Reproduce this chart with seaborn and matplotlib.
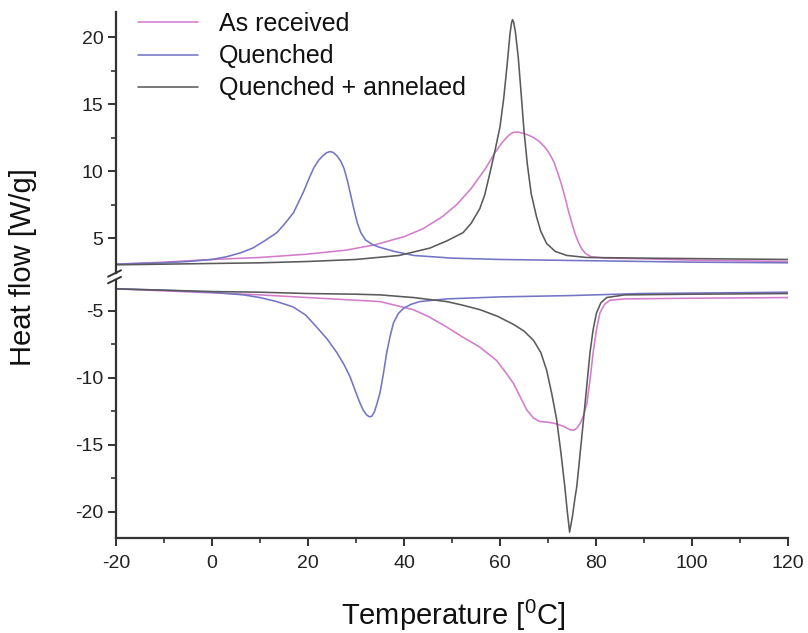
import matplotlib
matplotlib.use("Agg")
import matplotlib.pyplot as plt
from matplotlib.lines import Line2D
from matplotlib.ticker import FixedLocator
import numpy as np
import pandas as pd
import seaborn as sns

# ---------------- data ----------------
samples = ["As received", "Quenched", "Quenched + annelaed"]
colors = ["#d37ccb", "#7474c6", "#5a5a5a"]

# upper branch (exotherm side)
T_up_recv = [-20, -10, 0, 10, 20, 28, 34, 40, 44, 48, 51, 54, 57, 59, 60.5, 61.5, 62.3, 63,
             63.8, 64.8, 65.8, 67, 68.2, 69.3, 70.3, 71.2, 72, 72.8, 73.5, 74.2, 74.9, 75.6,
             76.3, 77, 77.8, 79, 82, 90, 100, 110, 120]
hf_up_recv = [3.05, 3.2, 3.4, 3.55, 3.8, 4.1, 4.5, 5.1, 5.7, 6.6, 7.5, 8.7, 10.2, 11.4,
              12.15, 12.55, 12.8, 12.9, 12.9, 12.82, 12.7, 12.5, 12.2, 11.8, 11.3, 10.7,
              9.9, 9.0, 8.1, 7.1, 6.2, 5.35, 4.7, 4.2, 3.85, 3.6, 3.5, 3.45, 3.35, 3.3, 3.25]

T_up_q = [-20, -10, -5, 0, 3, 6, 8.5, 11, 13.5, 15, 17, 19, 20.4, 21.3, 22.2, 23, 23.8,
          24.5, 25.2, 26, 26.8, 27.5, 28.2, 28.9, 29.6, 30.3, 31, 32, 33.5, 35, 38, 42, 50,
          60, 80, 100, 120]
hf_up_q = [3.05, 3.15, 3.25, 3.4, 3.6, 3.9, 4.25, 4.8, 5.4, 6.0, 6.9, 8.4, 9.6, 10.3, 10.8,
           11.1, 11.35, 11.45, 11.4, 11.15, 10.75, 10.2, 9.3, 8.2, 7.1, 6.1, 5.4, 4.85,
           4.5, 4.3, 4.0, 3.7, 3.5, 3.4, 3.3, 3.2, 3.15]

T_up_qa = [-20, -10, 0, 10, 20, 30, 39, 45.4, 49, 52.3, 54, 55.8, 56.8, 58, 59, 60, 60.8,
           61.5, 62.1, 62.4, 62.6, 62.85, 63.2, 63.8, 64.4, 65, 65.7, 66.5, 67.6, 68.5,
           69.7, 71.5, 73.9, 78, 90, 105, 120]
hf_up_qa = [3.0, 3.05, 3.1, 3.15, 3.25, 3.4, 3.7, 4.25, 4.8, 5.4, 6.1, 7.2, 8.2, 10.0,
            11.6, 13.3, 15.5, 18.0, 20.3, 21.05, 21.3, 21.1, 20.4, 18.5, 15.8, 13.0, 10.5,
            8.3, 6.6, 5.5, 4.6, 4.0, 3.7, 3.55, 3.5, 3.45, 3.4]

# lower branch (endotherm side)
T_lo_recv = [-20, -10, 0, 10, 20, 30, 35, 41.9, 45, 48.9, 52, 55.8, 59.3, 61, 62.8, 64.2,
             65.6, 67, 68.3, 70, 71.5, 73.2, 74.5, 75.3, 76, 76.7, 77.4, 78.1, 78.8, 79.4,
             80.1, 80.8, 81.8, 82.9, 86, 100, 120]
hf_lo_recv = [-3.35, -3.5, -3.65, -3.8, -4.0, -4.2, -4.3, -4.9, -5.4, -6.2, -6.9, -7.7,
              -8.7, -9.5, -10.4, -11.4, -12.4, -13.0, -13.25, -13.3, -13.4, -13.6, -13.85,
              -13.9, -13.75, -13.4, -12.8, -11.9, -10.0, -8.1, -6.4, -5.15, -4.5, -4.2,
              -4.1, -4.05, -4.0]

T_lo_q = [-20, -10, 0, 6.5, 10, 13.5, 16.9, 19.5, 21.8, 24, 26, 27.5, 28.75, 30, 30.8,
          31.5, 32.2, 32.8, 33.3, 33.8, 34.3, 35, 35.7, 36.4, 37.1, 37.8, 38.8, 39.9,
          41.5, 43.3, 48.9, 60, 75, 89, 105, 120]
hf_lo_q = [-3.35, -3.45, -3.6, -3.8, -4.0, -4.3, -4.7, -5.3, -6.2, -7.1, -8.1, -9.0, -9.9,
           -11.1, -11.85, -12.4, -12.75, -12.9, -12.85, -12.55, -12.0, -11.1, -9.7, -8.1,
           -6.9, -5.9, -5.2, -4.8, -4.5, -4.3, -4.1, -3.95, -3.85, -3.7, -3.65, -3.6]

T_lo_qa = [-20, -10, 0, 10, 20, 30, 35, 42, 48.9, 52, 55.8, 59.5, 62.8, 65, 67, 68.5, 69.7,
           70.8, 71.8, 72.7, 73.5, 74.0, 74.5, 75.1, 75.6, 76, 76.7, 77.4, 78.1, 78.75,
           79.4, 80.1, 81.0, 82.2, 86, 100, 120]
hf_lo_qa = [-3.35, -3.45, -3.55, -3.6, -3.7, -3.75, -3.8, -4.0, -4.3, -4.55, -4.9, -5.4,
            -6.0, -6.5, -7.2, -8.1, -9.4, -11.2, -13.1, -15.6, -18.1, -19.9, -21.5, -20.3,
            -19.0, -18.1, -15.6, -13.1, -10.5, -8.1, -6.4, -5.15, -4.4, -4.0, -3.8, -3.75,
            -3.7]

x_ticks = [-20, 0, 20, 40, 60, 80, 100, 120]
y_ticks_up = [5, 10, 15, 20]
y_ticks_lo = [-20, -15, -10, -5]

# ---------------- build tables ----------------
def table(pairs):
    frames = []
    for name, (t, h) in zip(samples, pairs):
        frames.append(pd.DataFrame({"T": t, "hf": h, "sample": name}))
    return pd.concat(frames, ignore_index=True)

df_up = table([(T_up_recv, hf_up_recv), (T_up_q, hf_up_q), (T_up_qa, hf_up_qa)])
df_lo = table([(T_lo_recv, hf_lo_recv), (T_lo_q, hf_lo_q), (T_lo_qa, hf_lo_qa)])

# ---------------- style ----------------
sns.set_style("ticks")
plt.rcParams["font.family"] = ["Liberation Sans", "DejaVu Sans"]
plt.rcParams["mathtext.fontset"] = "custom"
plt.rcParams["mathtext.rm"] = "Liberation Sans"
plt.rcParams["mathtext.default"] = "regular"
plt.rcParams["axes.unicode_minus"] = False

W, H = 808, 633
fig = plt.figure(figsize=(W / 100, H / 100), dpi=100)

def fx(px):
    return px / W

def fy(py):
    return 1 - py / H

left, right = 116, 788
ax_top = fig.add_axes([fx(left), fy(273), fx(right - left), (273 - 12) / H])
ax_bot = fig.add_axes([fx(left), fy(538), fx(right - left), (538 - 280) / H])

palette = dict(zip(samples, colors))
sns.lineplot(data=df_up, x="T", y="hf", hue="sample", hue_order=samples, palette=palette,
             estimator=None, sort=False, linewidth=1.15, ax=ax_top, legend=True)
sns.lineplot(data=df_lo, x="T", y="hf", hue="sample", hue_order=samples, palette=palette,
             estimator=None, sort=False, linewidth=1.15, ax=ax_bot, legend=False)

spine_c = "#333333"
for ax in (ax_top, ax_bot):
    ax.set_xlim(-20, 120)
    ax.set_xlabel("")
    ax.set_ylabel("")
    for s in ("top", "right"):
        ax.spines[s].set_visible(False)
    ax.spines["left"].set_linewidth(1.6)
    ax.spines["left"].set_color(spine_c)
    ax.tick_params(which="major", direction="out", length=6, width=1.4, colors=spine_c,
                   labelsize=14, labelcolor="#222222", pad=3)
    ax.tick_params(which="minor", direction="out", length=3.5, width=1.2, colors=spine_c)

ax_top.set_ylim(2.39, 21.87)
ax_top.spines["bottom"].set_visible(False)
ax_top.set_yticks(y_ticks_up)
ax_top.yaxis.set_minor_locator(FixedLocator([7.5, 12.5, 17.5]))
ax_top.tick_params(axis="x", which="both", bottom=False, labelbottom=False)

ax_bot.set_ylim(-21.94, -2.69)
ax_bot.spines["bottom"].set_linewidth(1.6)
ax_bot.spines["bottom"].set_color(spine_c)
ax_bot.set_yticks(y_ticks_lo)
ax_bot.yaxis.set_minor_locator(FixedLocator([-17.5, -12.5, -7.5]))
ax_bot.set_xticks(x_ticks)
ax_bot.xaxis.set_minor_locator(FixedLocator(list(range(-10, 120, 20))))
ax_bot.tick_params(axis="x", which="major", pad=6)

# axis break marks
for (x0, y0, x1, y1) in [(108, 276.7, 121, 270.3), (108, 283.3, 121, 276.9)]:
    fig.add_artist(Line2D([fx(x0), fx(x1)], [fy(y0), fy(y1)], color=spine_c, lw=1.4))

# labels
fig.text(fx(23), fy(267), "Heat flow [W/g]", rotation=90, ha="center", va="center",
         fontsize=21, color="#111111")
fig.text(fx(453), fy(615), "Temperature [$^{0}$C]", ha="center", va="center",
         fontsize=21, color="#111111")

# legend
leg = ax_top.legend(loc="upper left", bbox_to_anchor=(fx(138), fy(12)),
                    bbox_transform=fig.transFigure, frameon=False, fontsize=18,
                    borderpad=0, borderaxespad=0, labelspacing=0.33, handlelength=2.4,
                    handletextpad=0.85, title=None)
for t in leg.get_texts():
    t.set_color("#111111")

fig.savefig("out.png", dpi=100)
